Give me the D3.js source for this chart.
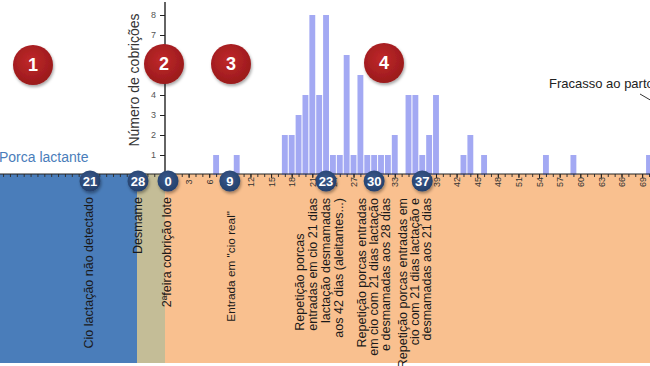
<!DOCTYPE html>
<html><head><meta charset="utf-8">
<script src="https://cdn.jsdelivr.net/npm/d3@7"></script>
<style>
body{margin:0;background:#fff;overflow:hidden}
svg{display:block}
text{font-family:"Liberation Sans",Arial,sans-serif}
</style>
</head><body>
<svg id="c" width="650" height="366"></svg>
<script>
// ---- data ----
const days   = [7,10,17,18,19,20,21,22,23,24,25,26,27,28,29,30,31,32,33,35,36,37,38,39,43,44,46,55,59,70];
const counts = [1,1, 2, 2, 3, 4, 8, 4, 8, 1, 1, 6, 1, 5, 1, 1, 1, 1, 2, 4, 4, 1, 2, 4, 1, 2, 1, 1, 1, 1];
const yTickValues = [1,2,3,4,5,6,7,8];
const xTickLabels = [3,6,9,12,15,18,21,24,27,30,33,36,39,42,45,48,51,54,57,60,63,66,69];
const lactationMarkers = [21,28];
const cycleMarkers = [0,9,23,30,37];
const stepLabels = ["1","2","3","4"];
const yTitle = "Número de cobrições";
const lactationLabel = "Porca lactante";
const failLabel = "Fracasso ao parto";
const phaseTexts = [
  ["Cio lactação não detectado"],
  ["Desmame"],
  ["2ªfeira cobrição lote"],
  ["Entrada em \"cio real\""],
  ["Repetição porcas","entradas em cio 21 dias","lactação desmamadas","aos 42 dias (aleitantes...)"],
  ["Repetição porcas entradas","em cio com 21 dias lactação","e desmamadas aos 28 dias"],
  ["Repetição porcas entradas em","cio com 21 dias lactação e","desmamadas aos 21 dias"]
];

// ---- layout ----
const svg = d3.select("#c");
const x  = d3.scaleLinear().domain([0,70]).range([168,649]);     // days after weaning-week monday
const xl = d3.scaleLinear().domain([21,28]).range([90,138]);     // lactation days
const y  = d3.scaleLinear().domain([0,8]).range([175,15]);
const bandTop = 174, bandBottom = 363, axisX = 165;

const defs = svg.append("defs");
const f = defs.append("filter").attr("id","sh").attr("x","-30%").attr("y","-30%").attr("width","160%").attr("height","160%");
f.append("feDropShadow").attr("dx",1).attr("dy",2).attr("stdDeviation",1.5).attr("flood-color","#000").attr("flood-opacity",0.35);
const rg = defs.append("radialGradient").attr("id","rg").attr("cx","45%").attr("cy","40%").attr("r","60%");
rg.append("stop").attr("offset","0%").attr("stop-color","#c0282a");
rg.append("stop").attr("offset","100%").attr("stop-color","#9a1a1c");
const ng = defs.append("radialGradient").attr("id","ng").attr("cx","45%").attr("cy","40%").attr("r","60%");
ng.append("stop").attr("offset","0%").attr("stop-color","#3a5a8c");
ng.append("stop").attr("offset","100%").attr("stop-color","#24406c");

// phase bands
svg.append("rect").attr("x",0).attr("y",bandTop).attr("width",xl(28)-1).attr("height",bandBottom-bandTop).attr("fill","#4a7dba");
svg.append("rect").attr("x",xl(28)-1).attr("y",bandTop).attr("width",axisX-(xl(28)-1)).attr("height",bandBottom-bandTop).attr("fill","#c4bd97");
svg.append("rect").attr("x",axisX).attr("y",bandTop).attr("width",650-axisX).attr("height",bandBottom-bandTop).attr("fill","#f9c08f");

// bars
const bw = x(1)-x(0);
svg.append("g").selectAll("rect").data(days).join("rect")
  .attr("x",(d)=>x(d)-bw/2+0.5)
  .attr("width",bw-1)
  .attr("y",(d,i)=>y(counts[i]))
  .attr("height",(d,i)=>y(0)-y(counts[i]))
  .attr("fill","#a3a9f3");

// bottom day axis (minor ticks every day, incl. lactation side)
const minorDays = d3.range(-24,71);
const axB = svg.append("g").attr("transform",`translate(0,${bandTop})`)
  .call(d3.axisBottom(x).tickValues(minorDays).tickSize(3).tickFormat(""));
axB.select(".domain").remove();
axB.selectAll("line").attr("stroke","#333");
svg.append("line").attr("x1",0).attr("x2",650).attr("y1",bandTop).attr("y2",bandTop).attr("stroke","#222").attr("stroke-width",1.2);
const axL = svg.append("g").attr("transform",`translate(0,${bandTop})`)
  .call(d3.axisBottom(x).tickValues(xTickLabels).tickSize(4));
axL.select(".domain").remove();
axL.selectAll("line").attr("stroke","#222");
axL.selectAll("text")
  .attr("transform","translate(0,8) rotate(-90)")
  .attr("x",0).attr("y",0).attr("dy","0.35em")
  .attr("text-anchor","middle")
  .attr("font-size",9).attr("fill","#333")
  .attr("font-family","Liberation Sans, Arial, sans-serif");

// y axis
svg.append("line").attr("x1",axisX).attr("x2",axisX).attr("y1",2).attr("y2",bandTop).attr("stroke","#111").attr("stroke-width",1.3);
const ay = svg.append("g").attr("transform",`translate(${axisX},0)`)
  .call(d3.axisLeft(y).tickValues(yTickValues).tickSize(5).tickFormat(d3.format("d")));
ay.select(".domain").remove();
ay.selectAll("line").attr("stroke","#222");
ay.selectAll("text").attr("font-size",9).attr("fill","#555").attr("x",-9)
  .attr("font-family","Liberation Sans, Arial, sans-serif");

svg.append("text").attr("transform","translate(139,80) rotate(-90)")
  .attr("text-anchor","middle").attr("font-size",14).attr("fill","#333").text(yTitle);

// labels
svg.append("text").attr("x",-1).attr("y",162).attr("font-size",14).attr("fill","#4a7dba").text(lactationLabel);
svg.append("text").attr("x",549).attr("y",88).attr("font-size",13).attr("fill","#222").text(failLabel);
svg.append("line").attr("x1",640).attr("y1",94).attr("x2",652).attr("y2",101).attr("stroke","#333").attr("stroke-width",1);

// phase texts (rotated)
const phaseLayout = [
  {x:[89], y:197, a:"end", fs:12.5},
  {x:[138], y:197, a:"end", fs:12.5},
  {x:[167], y:197, a:"end", fs:12.5},
  {x:[231], y:211, a:"end", fs:11.8},
  {x:[300,313,326,339], y:198, a:"end", fs:12.5, firstAlignBottom:true},
  {x:[362,374,386], y:198, a:"end", fs:12.5},
  {x:[403,415,427], y:198, a:"end", fs:12.5}
];
phaseTexts.forEach((lines,i)=>{
  const L = phaseLayout[i];
  const nodes = lines.map((t,j)=>svg.append("text")
      .attr("transform",`translate(${L.x[j]},${L.y}) rotate(-90)`)
      .attr("dy","0.35em").attr("text-anchor",L.a)
      .attr("font-size",L.fs).attr("fill","#1a1a1a").text(t));
  if (L.firstAlignBottom) {
    const bottom = L.y + nodes[1].node().getComputedTextLength();
    nodes[0].attr("transform",`translate(${L.x[0]},${bottom}) rotate(-90)`).attr("text-anchor","start");
  }
});

// navy milestone circles
const markers = lactationMarkers.map(d=>({v:d, cx:xl(d)})).concat(cycleMarkers.map(d=>({v:d, cx:x(d)})));
const mg = svg.append("g").selectAll("g").data(markers).join("g")
  .attr("transform",d=>`translate(${d.cx},181)`);
mg.append("circle").attr("r",10.5).attr("fill","url(#ng)").attr("filter","url(#sh)");
mg.append("text").attr("text-anchor","middle").attr("dy","0.36em").attr("font-size",13).attr("font-weight","bold")
  .attr("fill","#fff").text(d=>d.v);

// red step circles
const stepPos = [[33,65],[164,64],[231,64],[384,63]];
const sg = svg.append("g").selectAll("g").data(stepLabels).join("g")
  .attr("transform",(d,i)=>`translate(${stepPos[i][0]},${stepPos[i][1]})`);
sg.append("circle").attr("r",20).attr("fill","url(#rg)").attr("filter","url(#sh)");
sg.append("text").attr("text-anchor","middle").attr("dy","0.36em").attr("font-size",18).attr("font-weight","bold")
  .attr("fill","#fff").text(d=>d);
</script>
</body></html>
